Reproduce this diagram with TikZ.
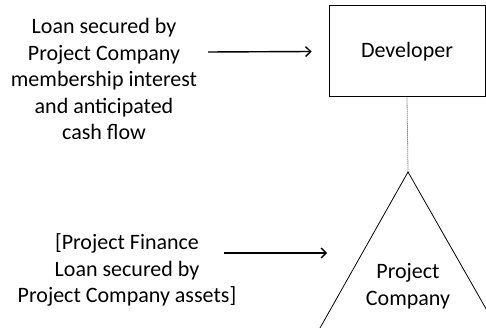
\documentclass[tikz,border=0pt]{standalone}
\usepackage{fontspec}
\setmainfont{Carlito}
\usetikzlibrary{arrows.meta}

\begin{document}
\begin{tikzpicture}[x=1pt,y=-1pt,
    font=\fontsize{22}{26.5}\selectfont,
    entity/.style={draw,line width=1pt,minimum width=156pt,minimum height=91pt},
    note/.style={align=center},
    feed/.style={line width=1.4pt,-{Straight Barb[length=5pt,width=10pt]}}]

        \clip (0,0) rectangle (486,328);

        \node[entity] (Dev)   at (407,51.5) {Developer};
        \node[note]   (LoanA) at (104,79)   {Loan secured by\\Project Company\\membership interest\\and anticipated\\cash flow};
        \node[note]   (LoanB) at (127,270)  {[Project Finance\\Loan secured by\\Project Company assets]};
        \node[note]   (PCo)   at (408,286)  {Project\\Company};

        \coordinate (apex)  at (408,172);
        \coordinate (baseL) at (320,328);
        \coordinate (baseR) at (497,328);
        \coordinate (fromA) at (208,52);
        \coordinate (fromB) at (224,253);
        \coordinate (toB)   at (327,253);

        \draw[line width=0.8pt] (baseL) -- (apex) -- (baseR);
        \draw[line width=0.8pt,dash pattern=on 1pt off 1pt,gray!60!black] (Dev.south) -- (apex);

        \path[feed]
                  (fromA) edge ([xshift=-17pt]Dev.west)
                  (fromB) edge (toB);
      \end{tikzpicture}
\end{document}
